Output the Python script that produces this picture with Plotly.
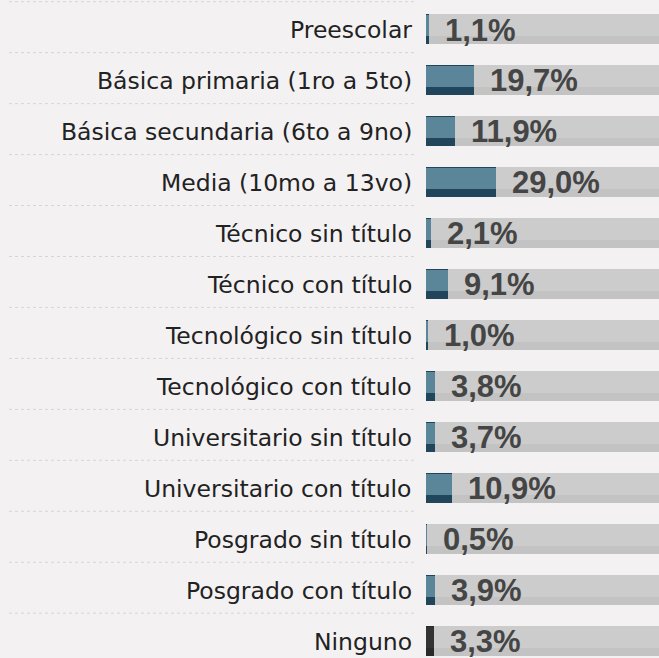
import plotly.graph_objects as go

categories = [
    "Preescolar",
    "Básica primaria (1ro a 5to)",
    "Básica secundaria (6to a 9no)",
    "Media (10mo a 13vo)",
    "Técnico sin título",
    "Técnico con título",
    "Tecnológico sin título",
    "Tecnológico con título",
    "Universitario sin título",
    "Universitario con título",
    "Posgrado sin título",
    "Posgrado con título",
    "Ninguno",
]
values = [1.1, 19.7, 11.9, 29.0, 2.1, 9.1, 1.0, 3.8, 3.7, 10.9, 0.5, 3.9, 3.3]
track_value = 100

W, H = 659, 658
L = 426
PX_PER_PCT = 2.42
PITCH = 50.96
ROW0 = 29.0
BAR_W = 30 / PITCH
STRIP = 8 / PITCH
TOPLINE = 1 / PITCH

n = len(categories)
ys = list(range(n))

light = ["#5b8598"] * (n - 1) + ["#333333"]
dark = ["#21455a"] * (n - 1) + ["#2a2a2a"]

fig = go.Figure()
# track
fig.add_trace(go.Bar(x=[track_value] * n, y=ys, orientation="h", width=BAR_W,
                     marker=dict(color="#cccccc", line_width=0), hoverinfo="skip"))
fig.add_trace(go.Bar(x=[track_value] * n, y=ys, orientation="h", width=STRIP,
                     offset=BAR_W / 2 - STRIP,
                     marker=dict(color="#c3c3c3", line_width=0), hoverinfo="skip"))
# value bars
fig.add_trace(go.Bar(x=values, y=ys, orientation="h", width=BAR_W,
                     marker=dict(color=dark, line_width=0), hoverinfo="skip"))
fig.add_trace(go.Bar(x=values, y=ys, orientation="h", width=BAR_W - STRIP - TOPLINE,
                     offset=-BAR_W / 2 + TOPLINE,
                     marker=dict(color=light, line_width=0), hoverinfo="skip"))

annotations = []
for i, (c, v) in enumerate(zip(categories, values)):
    annotations.append(dict(x=0, y=i, xref="paper", yref="y", text=c, showarrow=False,
                            xanchor="right", yanchor="middle", xshift=-12, yshift=-1,
                            font=dict(family="DejaVu Sans", size=23.5, color="#222222")))
    annotations.append(dict(x=v, y=i, xref="x", yref="y",
                            text=f"{v:.1f}".replace(".", ",") + "%", showarrow=False,
                            xanchor="left", yanchor="middle", xshift=14, yshift=-1,
                            font=dict(family="Liberation Sans", size=31, color="#454545",
                                      weight="bold")))

shapes = []
for i in range(n):
    yv = i - 0.536
    shapes.append(dict(type="line", xref="paper", yref="y",
                       x0=(9 - L) / (W - L), x1=(415 - L) / (W - L), y0=yv, y1=yv,
                       line=dict(color="#d6d6d6", width=1, dash="3px,3px")))

top_val = -ROW0 / PITCH
bot_val = (H - ROW0) / PITCH

fig.update_layout(
    width=W, height=H,
    margin=dict(l=L, r=0, t=0, b=0),
    barmode="overlay",
    showlegend=False,
    paper_bgcolor="#f3f1f2",
    plot_bgcolor="#f3f1f2",
    xaxis=dict(range=[0, (W - L) / PX_PER_PCT], visible=False, fixedrange=True),
    yaxis=dict(range=[bot_val, top_val], visible=False, fixedrange=True),
    annotations=annotations,
    shapes=shapes,
    bargap=0,
)

fig.write_html(
    "out.html",
    config={"displayModeBar": False, "staticPlot": True},
    post_script="document.body.style.margin='0';document.body.style.overflow='hidden';"
                "document.body.style.background='#f3f1f2';",
)
